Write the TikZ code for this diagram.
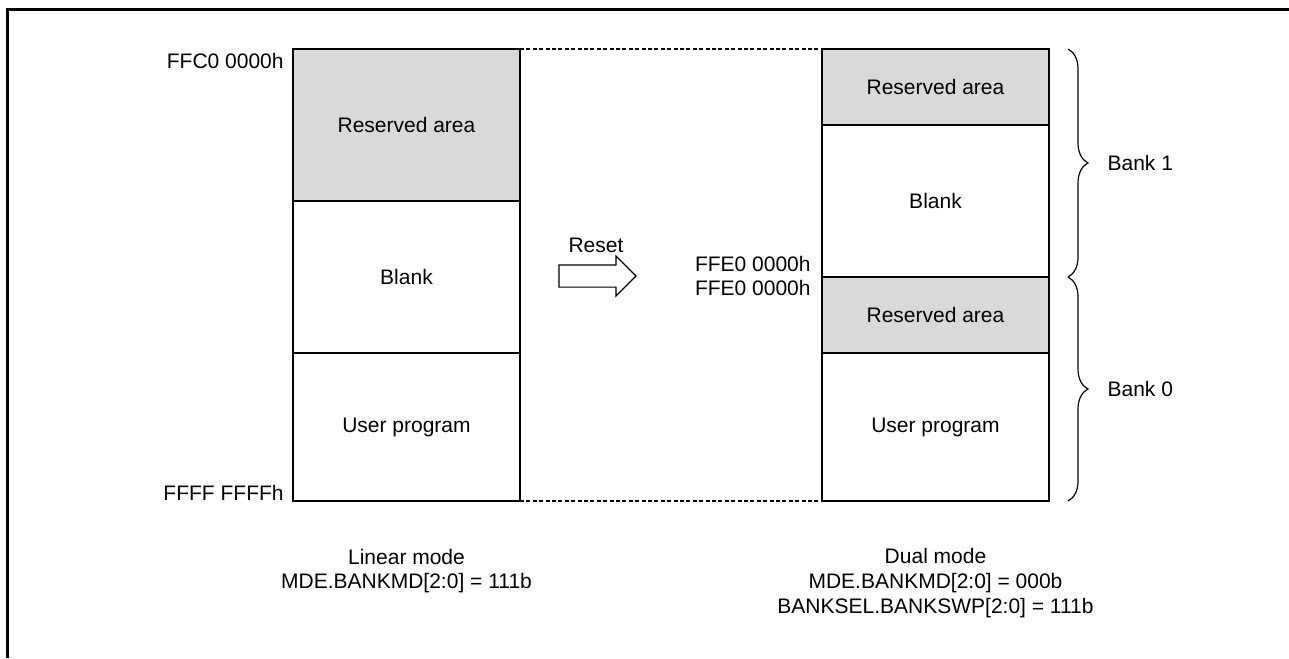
\documentclass[tikz,border=0pt]{standalone}
\usepackage{fontspec}
\setmainfont{Liberation Sans}
\usepackage{tikz}
\usetikzlibrary{arrows.meta,positioning,calc,shapes.arrows,decorations.pathreplacing}
\tikzset{
  blk/.style={draw=black, line width=1pt, minimum width=113.5pt, inner sep=0pt,
    outer sep=0pt, align=center, font=\fontsize{10.5}{12.6}\selectfont},
  resv/.style={blk, fill=black!15},
  addr/.style={inner sep=0pt, align=right, font=\fontsize{10.5}{12.3}\selectfont},
  lbl/.style={inner sep=0pt, align=center, font=\fontsize{10.5}{12.3}\selectfont},
  frm/.style={line width=1.75pt},
  gap/.style={line width=0.8pt, dash pattern=on 2pt off 1.2pt},
  rstarrow/.style={draw=black, line width=0.6pt, single arrow, inner xsep=0pt,
    inner ysep=5.25pt, minimum height=38.5pt, single arrow head extend=4.5pt,
    single arrow head indent=0pt},
  bank/.style={decorate, decoration={brace, amplitude=10pt}, line width=0.6pt}
}

\begin{document}
\begin{tikzpicture}[x=0.5pt, y=-0.5pt]
  \useasboundingbox (0,0) rectangle (1289,658);
  \draw[frm] (7.5,658) -- (7.5,9.5) -- (1289,9.5);

  % linear mode
  \node[resv, minimum height=76pt, anchor=north west] (l1) at (293,49) {Reserved area};
  \node[blk, minimum height=76pt, below=0pt of l1] (l2) {Blank};
  \node[blk, minimum height=74pt, below=0pt of l2] (l3) {User program};
  \node[addr, anchor=east] (a1) at ($(l1.north west)+(-9,12)$) {FFC0 0000h};
  \node[addr, anchor=east] (a2) at ($(l3.south west)+(-9,-8)$) {FFFF FFFFh};

  % dual mode
  \node[resv, minimum height=38pt, anchor=north west] (r1) at (822,49) {Reserved area};
  \node[blk, minimum height=76pt, below=0pt of r1] (r2) {Blank};
  \node[resv, minimum height=38pt, below=0pt of r2] (r3) {Reserved area};
  \node[blk, minimum height=74pt, below=0pt of r3] (r4) {User program};
  \node[addr, anchor=east] (a3) at ($(r2.south west)+(-11,-1)$) {FFE0 0000h\\FFE0 0000h};

  \draw[gap] (l1.north east) -- (r1.north west);
  \draw[gap] (l3.south east) -- (r4.south west);

  % reset
  \node[rstarrow] (arr) at (592,276) {};
  \node[lbl] (rst) at ($(arr.center)+(4,-31)$) {Reset};

  % banks
  \draw[bank] ($(r1.north east)+(19,0)$) -- ($(r2.south east)+(19,0)$)
    node[lbl, midway, anchor=west, xshift=19.5pt] (b1) {Bank 1};
  \draw[bank] ($(r3.north east)+(19,0)$) -- ($(r4.south east)+(19,0)$)
    node[lbl, midway, anchor=west, xshift=19.5pt] (b0) {Bank 0};

  % modes
  \node[lbl] (lin) at ($(l3.south)+(0,70)$) {Linear mode\\MDE.BANKMD[2:0] = 111b};
  \node[lbl] (dual) at ($(r4.south)+(0,82)$)
    {Dual mode\\MDE.BANKMD[2:0] = 000b\\BANKSEL.BANKSWP[2:0] = 111b};
\end{tikzpicture}
\end{document}
